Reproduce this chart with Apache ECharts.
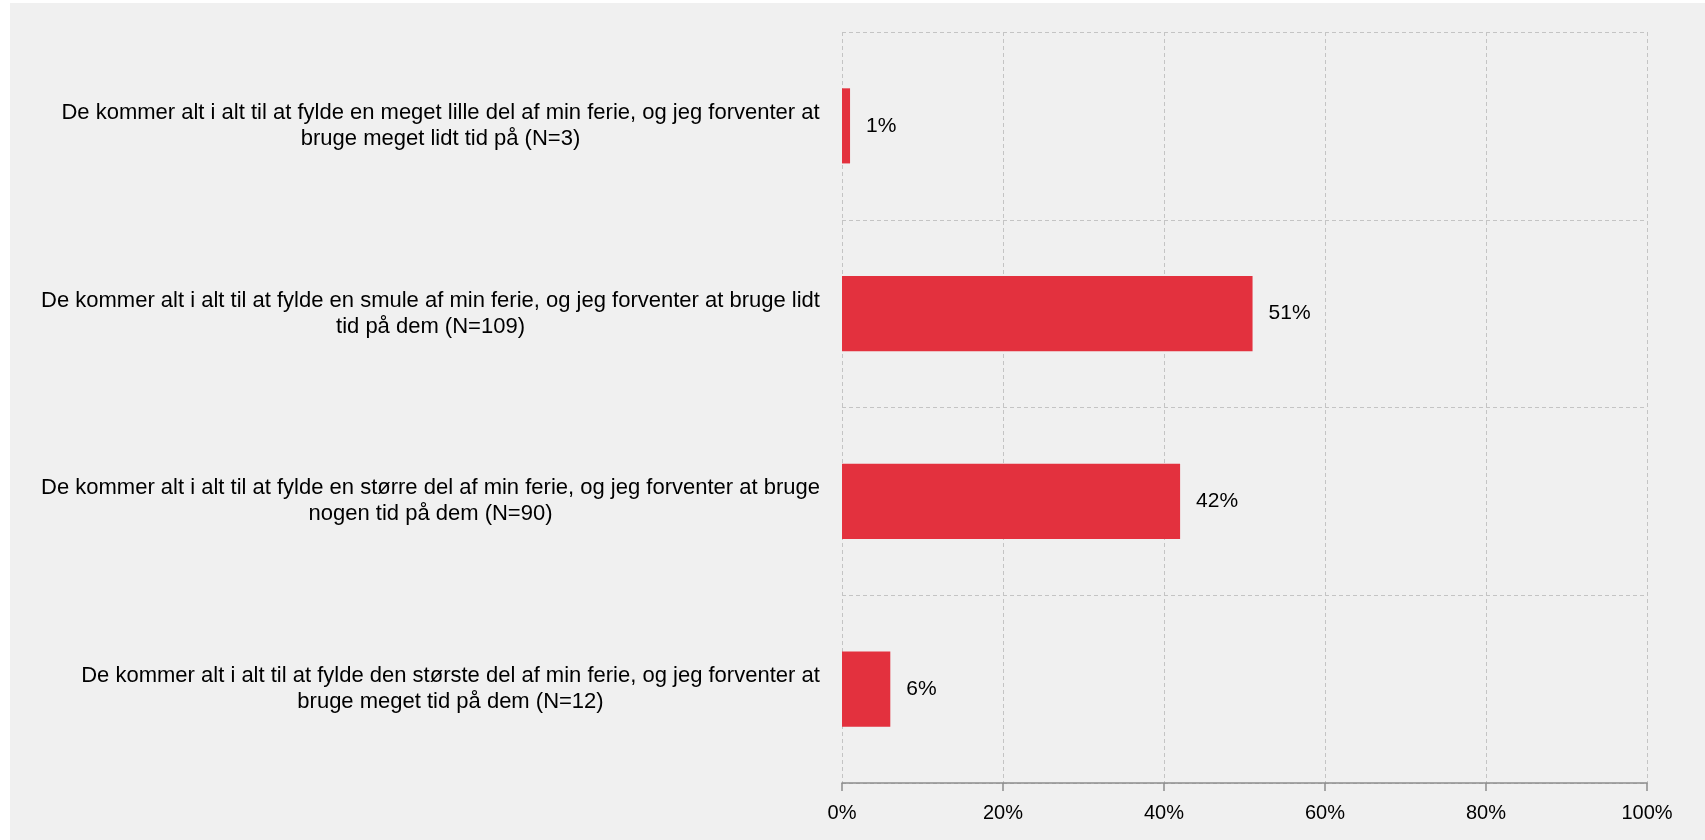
<!DOCTYPE html>
<html>
<head>
<meta charset="utf-8">
<script src="https://cdn.jsdelivr.net/npm/echarts@6/dist/echarts.min.js"></script>
<style>
html,body{margin:0;padding:0;background:#fff;}
#c{width:1705px;height:840px;}
</style>
</head>
<body>
<div id="c"></div>
<script>
const categories = [
  "De kommer alt i alt til at fylde en meget lille del af min ferie, og jeg forventer at\nbruge meget lidt tid på (N=3)",
  "De kommer alt i alt til at fylde en smule af min ferie, og jeg forventer at bruge lidt\ntid på dem (N=109)",
  "De kommer alt i alt til at fylde en større del af min ferie, og jeg forventer at bruge\nnogen tid på dem (N=90)",
  "De kommer alt i alt til at fylde den største del af min ferie, og jeg forventer at\nbruge meget tid på dem (N=12)"
];
const values = [1, 51, 42, 6];
const xTicks = [0, 20, 40, 60, 80, 100];

const font = 'Liberation Sans, Arial, sans-serif';
const catFontSize = 22;

// measure each label's widest line so its lines can be centred within the block
const ctx = document.createElement('canvas').getContext('2d');
ctx.font = catFontSize + 'px ' + font;
const rich = {};
categories.forEach((c, i) => {
  const w = Math.max(...c.split('\n').map(l => ctx.measureText(l).width));
  rich['c' + i] = {width: Math.ceil(w) + 2, align: 'center', fontSize: catFontSize,
    fontFamily: font, color: '#000', lineHeight: 26};
});

const chart = echarts.init(document.getElementById('c'), null, {renderer: 'canvas'});
chart.setOption({
  backgroundColor: '#ffffff',
  animation: false,
  graphic: [{
    type: 'rect', z: -10, silent: true,
    shape: {x: 10, y: 3, width: 1695, height: 837},
    style: {fill: '#f0f0f0'}
  }],
  grid: {left: 842, right: 58, top: 32, bottom: 57, containLabel: false},
  xAxis: {
    type: 'value', min: 0, max: 100, interval: 20,
    axisLine: {show: true, lineStyle: {color: '#8c8c8c', width: 1.5}},
    axisTick: {show: true, length: 8, lineStyle: {color: '#8c8c8c', width: 1.5}},
    axisLabel: {
      margin: 20, fontSize: 20, color: '#000', fontFamily: font,
      formatter: v => xTicks.includes(v) ? v + '%' : ''
    },
    splitLine: {show: true, lineStyle: {color: '#c4c4c4', type: [4, 3], width: 1}}
  },
  yAxis: {
    type: 'category', data: categories, inverse: true,
    axisLine: {show: false}, axisTick: {show: false},
    axisLabel: {
      margin: 21, fontSize: catFontSize, color: '#000', fontFamily: font,
      align: 'right', lineHeight: 26,
      formatter: (v, i) => v.split('\n').map(l => '{c' + i + '|' + l + '}').join('\n'),
      rich: rich
    },
    splitLine: {show: true, lineStyle: {color: '#c4c4c4', type: [4, 3], width: 1}}
  },
  series: [{
    type: 'bar', data: values, barWidth: '40%',
    itemStyle: {color: '#e3313e'},
    label: {
      show: true, position: 'right', distance: 16,
      formatter: p => p.value + '%',
      fontSize: 21, color: '#000', fontFamily: font
    }
  }]
});
</script>
</body>
</html>
